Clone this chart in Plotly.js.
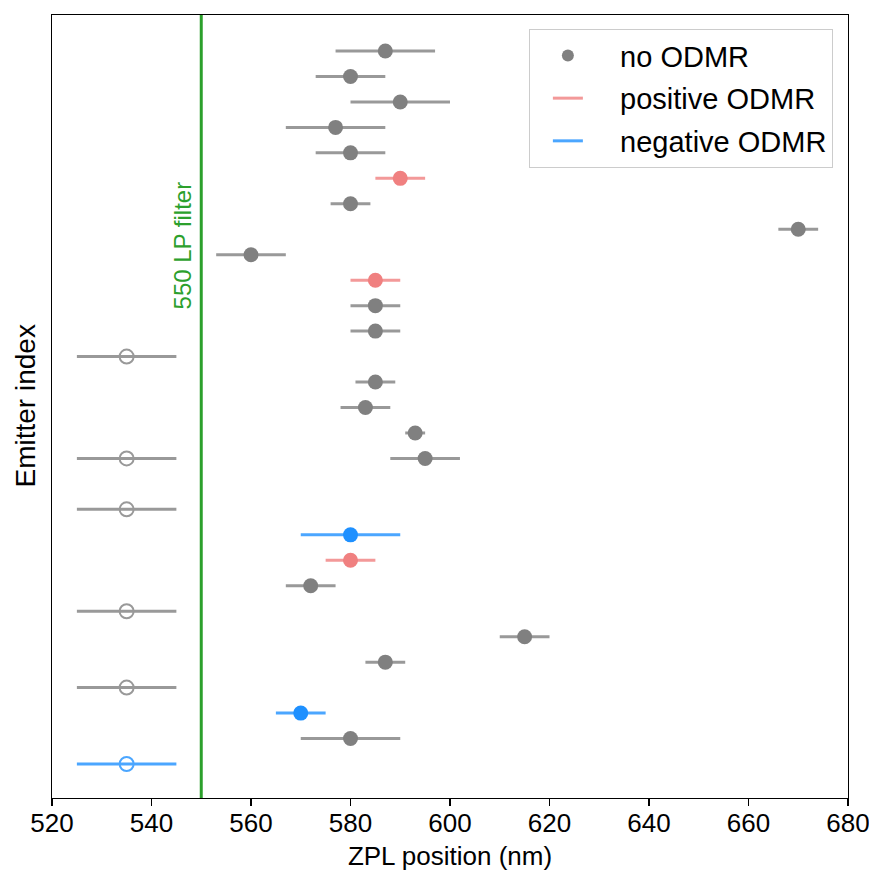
<!DOCTYPE html>
<html>
<head>
<meta charset="utf-8">
<script src="https://cdn.plot.ly/plotly-3.0.1.min.js"></script>
<style>
  html, body { margin: 0; padding: 0; background: #fff; }
  #chart { width: 869px; height: 876px; }
</style>
</head>
<body>
<div id="chart"></div>
<script>
// Emitter slot (0 = top row), ZPL position (nm) and error half-widths (nm)
const noOdmrIdx   = [0, 1, 2, 3, 4, 6, 7, 8, 10, 11, 13, 14, 15, 16, 21, 23, 24, 27];
const noOdmrZpl   = [587, 580, 590, 577, 580, 580, 670, 560, 585, 585, 585, 583, 593, 595, 572, 615, 587, 580];
const noOdmrErr   = [10, 7, 10, 10, 7, 4, 4, 7, 5, 5, 4, 5, 2, 7, 5, 5, 4, 10];

const noOdmrOpenIdx = [12, 16, 18, 22, 25];
const noOdmrOpenZpl = [535, 535, 535, 535, 535];
const noOdmrOpenErr = [10, 10, 10, 10, 10];

const posIdx = [5, 9, 20];
const posZpl = [590, 585, 580];
const posErr = [5, 5, 5];

const negIdx = [19, 26];
const negZpl = [580, 570];
const negErr = [10, 5];

const negOpenIdx = [28];
const negOpenZpl = [535];
const negOpenErr = [10];

const filterWavelength = 550;
const xTicks = [520, 540, 560, 580, 600, 620, 640, 660, 680];
const legendLabels = ['no ODMR', 'positive ODMR', 'negative ODMR'];

const FONT = 'Liberation Sans, Arial, sans-serif';
const GRAY = '#808080', GRAY_E = '#999999';
const PINK = '#f08080', PINK_E = '#f39999';
const BLUE = '#1e90ff', BLUE_E = '#4ba6ff';
const PAD = '\u00a0\u00a0\u00a0\u00a0';

function errTrace(x, y, err, mColor, eColor, open) {
  return {
    type: 'scatter', mode: 'markers', x: x, y: y, showlegend: false,
    hoverinfo: 'skip',
    error_x: { type: 'data', array: err, visible: true, color: eColor, thickness: 3, width: 0 },
    marker: open
      ? { symbol: 'circle-open', size: 14, color: eColor, line: { width: 2, color: eColor } }
      : { symbol: 'circle', size: 15, color: mColor }
  };
}

const data = [
  errTrace(noOdmrOpenZpl, noOdmrOpenIdx, noOdmrOpenErr, GRAY, GRAY_E, true),
  errTrace(noOdmrZpl, noOdmrIdx, noOdmrErr, GRAY, GRAY_E, false),
  errTrace(posZpl, posIdx, posErr, PINK, PINK_E, false),
  errTrace(negZpl, negIdx, negErr, BLUE, BLUE_E, false),
  errTrace(negOpenZpl, negOpenIdx, negOpenErr, BLUE, BLUE_E, true),
  { type: 'scatter', mode: 'markers', x: [null], y: [null], name: PAD + legendLabels[0],
    legendgroup: 'a', marker: { color: GRAY, size: 12 } },
  { type: 'scatter', mode: 'lines', x: [null], y: [null], name: PAD + legendLabels[1],
    legendgroup: 'b', line: { color: PINK_E, width: 3 } },
  { type: 'scatter', mode: 'lines', x: [null], y: [null], name: PAD + legendLabels[2],
    legendgroup: 'c', line: { color: BLUE_E, width: 3 } }
];

const layout = {
  width: 869, height: 876,
  margin: { l: 52, r: 21, t: 15, b: 78 },
  paper_bgcolor: '#fff', plot_bgcolor: '#fff',
  font: { family: FONT, color: '#000', size: 26 },
  showlegend: true,
  hovermode: false,
  xaxis: {
    range: [520, 680], tickvals: xTicks, ticktext: xTicks.map(String),
    ticks: 'outside', ticklen: 7, tickwidth: 1.3, tickcolor: '#000',
    ticklabeloverflow: 'allow', ticklabelstandoff: -6,
    showline: true, linecolor: '#000', linewidth: 1.3, mirror: true,
    showgrid: false, zeroline: false,
    tickfont: { size: 26, family: FONT },
    title: { text: 'ZPL position (nm)', font: { size: 26, family: FONT }, standoff: 10 }
  },
  yaxis: {
    range: [29.335, -1.414],
    showticklabels: false, ticks: '',
    showline: true, linecolor: '#000', linewidth: 1.3, mirror: true,
    showgrid: false, zeroline: false
  },
  legend: {
    x: 0.981, y: 0.982, xanchor: 'right', yanchor: 'top',
    bgcolor: 'rgba(255,255,255,0.8)', bordercolor: '#cccccc', borderwidth: 1,
    font: { size: 29, family: FONT },
    traceorder: 'grouped', tracegroupgap: 2,
    itemwidth: 30, indentation: 18
  },
  shapes: [{
    type: 'line', xref: 'x', yref: 'paper', x0: filterWavelength, x1: filterWavelength,
    y0: 0, y1: 1, line: { color: '#2ca02c', width: 3 }, layer: 'below'
  }],
  annotations: [{
    xref: 'x', yref: 'paper', x: filterWavelength, y: 0.706,
    text: filterWavelength + ' LP filter', textangle: -90, showarrow: false,
    xanchor: 'center', yanchor: 'middle', xshift: -19,
    font: { size: 24, family: FONT, color: '#2ca02c' }
  }, {
    xref: 'paper', yref: 'paper', x: 0, y: 0.5, xshift: -27,
    text: 'Emitter index', textangle: -90, showarrow: false,
    xanchor: 'center', yanchor: 'middle',
    font: { size: 28, family: FONT, color: '#000' }
  }]
};

Plotly.newPlot('chart', data, layout, { displayModeBar: false, staticPlot: true });
</script>
</body>
</html>
